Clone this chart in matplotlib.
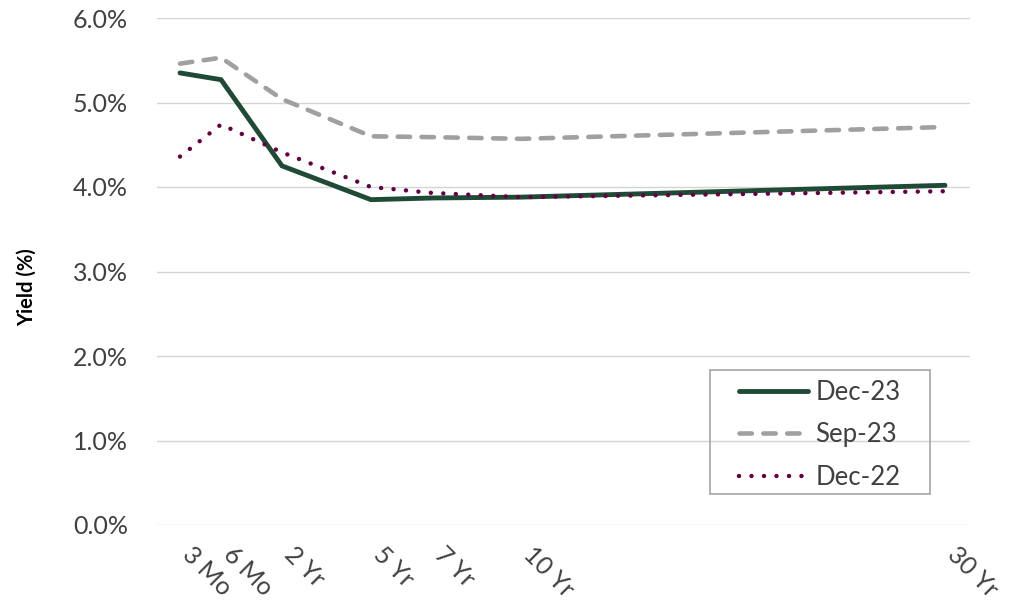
import matplotlib
matplotlib.use("Agg")
import matplotlib.pyplot as plt
from matplotlib.ticker import FuncFormatter
from matplotlib.patches import Rectangle
from matplotlib.transforms import ScaledTranslation
from matplotlib.lines import Line2D

plt.rcParams['font.family'] = ['Lato', 'DejaVu Sans']

# Data
maturities = ["3 Mo", "6 Mo", "2 Yr", "5 Yr", "7 Yr", "10 Yr", "30 Yr"]
maturity_pos = [23, 64, 125, 214, 275, 364, 788]  # horizontal axis positions of maturities
dec23 = [5.35, 5.27, 4.25, 3.85, 3.87, 3.88, 4.02]
sep23 = [5.46, 5.53, 5.04, 4.60, 4.59, 4.57, 4.71]
dec22 = [4.36, 4.74, 4.41, 4.00, 3.93, 3.88, 3.95]
series_names = ["Dec-23", "Sep-23", "Dec-22"]

W, H = 1018, 607
fig = plt.figure(figsize=(W/100, H/100), dpi=100)
ax = fig.add_axes([157/W, 1-525/H, (970-157)/W, (525-18)/H])

text_color = "#404040"
green, gray, maroon = "#1f4a36", "#a0a0a0", "#650042"
styles = [
    dict(color=green, lw=3.5, solid_capstyle="round", solid_joinstyle="miter"),
    dict(color=gray, lw=3.3, dashes=(2.7, 2.5), dash_capstyle="round"),
    dict(color=maroon, lw=3.2, dashes=(0.01, 2.8), dash_capstyle="round"),
]
for vals, name, st, z in zip([dec23, sep23, dec22], series_names, styles, [4, 3, 5]):
    ax.plot(maturity_pos, vals, label=name, zorder=z, **st)

ax.set_xlim(0, 813)
ax.set_ylim(0, 6.0)
ax.set_yticks([0, 1, 2, 3, 4, 5, 6])
ax.yaxis.set_major_formatter(FuncFormatter(lambda v, p: f"{v:.1f}%"))
ax.grid(axis="y", color="#d4d4d4", lw=1.0)
ax.set_axisbelow(True)
for s in ax.spines.values():
    s.set_visible(False)

ax.tick_params(axis="x", length=0, pad=13)
ax.tick_params(axis="y", length=0, pad=21, labelsize=18, labelcolor=text_color)
ax.set_xticks(maturity_pos)
ax.set_xticklabels(maturities, rotation=-45, ha="left", va="top",
                   rotation_mode="anchor", fontsize=18, color=text_color)
offset = ScaledTranslation(14/100, 0, fig.dpi_scale_trans)
for lbl in ax.get_xticklabels():
    lbl.set_transform(lbl.get_transform() + offset)

ax.set_ylabel("Yield (%)", fontsize=14.5, fontweight="bold", color="#000000")
ax.yaxis.set_label_coords((37-157)/813, (525-287)/507)

# legend
handles = [Line2D([], [], **st) for st in styles]
leg = ax.legend(handles, series_names, loc="upper left",
                bbox_to_anchor=(739/W, 1-380/H), bbox_transform=fig.transFigure,
                fontsize=18.5, frameon=False, handlelength=2.7,
                borderpad=0, labelspacing=0.68, handletextpad=0.28,
                borderaxespad=0)
for t in leg.get_texts():
    t.set_color(text_color)
fig.patches.append(Rectangle((710/W, 1-494/H), 220/W, 124/H, transform=fig.transFigure,
                             fill=False, edgecolor="#a6a6a6", lw=1.2, zorder=6))

fig.savefig("out.png", dpi=100)
